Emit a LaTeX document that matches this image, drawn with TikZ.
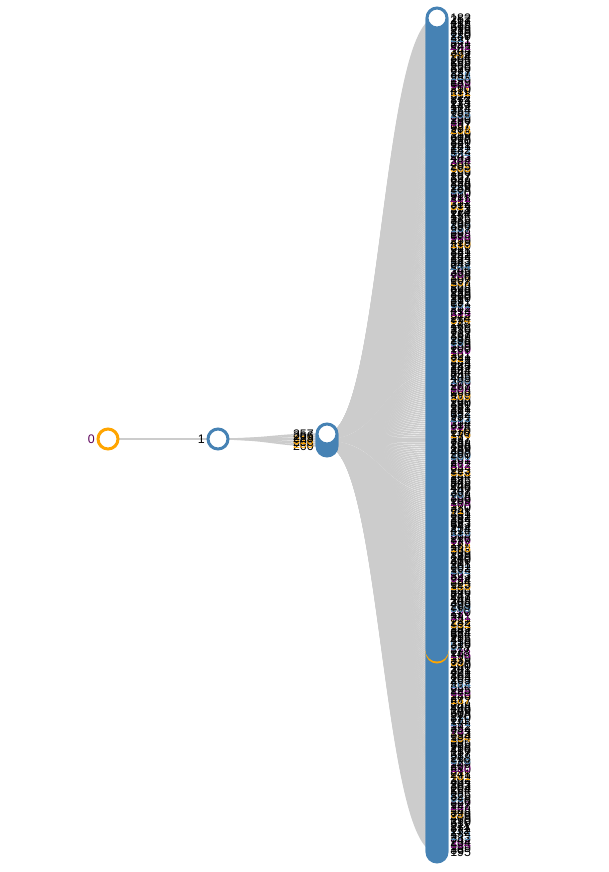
\documentclass[tikz,border=0pt]{standalone}
\usepackage{fontspec}
\setmainfont{Liberation Sans}
\definecolor{steel}{HTML}{4682B4}
\definecolor{amber}{HTML}{FFA500}
\definecolor{plum}{HTML}{800080}
\definecolor{linkgray}{HTML}{CCCCCC}
\pgfdeclarelayer{bg}
\pgfsetlayers{bg,main}

\begin{document}
\begin{tikzpicture}[x=0.75pt,y=-0.75pt,
  dot/.style={circle,draw=steel,fill=white,line width=2.25pt,minimum size=15pt,inner sep=0pt,outer sep=0pt},
  dotorange/.style={dot,draw=amber},
  lab/.style={inner sep=0pt,font=\fontsize{9.3}{10}\selectfont},
  link/.style={draw=linkgray,line width=1.125pt},
  label distance=2.25pt]
\useasboundingbox (0,0) rectangle (609,872);

\node[dotorange,label={[lab,name=t0,text=plum!70!black]left:0}] (r) at (108,439) {};
\node[dot,label={[lab,name=t1]left:1}] (a) at (218,439) {};

\foreach \j/\num/\tc in {0/260/black,1/289/amber,2/206/black,3/318/amber,4/223/black,5/266/black,6/357/black}
  \node[dot,label={[lab,name=tc\j,text=\tc]left:\num}] (c\j) at (327,446-2*\j) {};

\foreach \i in {0,...,417}{
  \pgfmathtruncatemacro\ypos{852-2*\i}
  \pgfmathtruncatemacro\num{mod(195+mod(\i*37,419)*7,419)+1}
  \pgfmathtruncatemacro\hue{mod(\i*5,19)}
  \ifcase\hue \def\tc{amber}\or \def\tc{plum}\or \def\tc{steel}\else \def\tc{black}\fi
  \ifnum\i=0 \def\num{195}\def\tc{black}\fi
  \ifnum\i=417 \def\num{182}\def\tc{black}\fi
  \ifnum\i=100
    \node[dotorange,label={[lab,name=tl\i,text=\tc]right:\num}] (l\i) at (437,\ypos) {};
  \else
    \node[dot,label={[lab,name=tl\i,text=\tc]right:\num}] (l\i) at (437,\ypos) {};
  \fi
}

\begin{pgfonlayer}{bg}
\draw[link] (r.center) -- (a.center);
\foreach \j in {0,...,6}
  \draw[link] (a.center) .. controls +(54.5,0) and +(-54.5,0) .. (c\j.center);
\foreach \i in {0,...,417}{
  \pgfmathtruncatemacro\p{\i/60}
  \draw[link] (c\p.center) .. controls +(55,0) and +(-55,0) .. (l\i.center);
}
\end{pgfonlayer}
\end{tikzpicture}
\end{document}
